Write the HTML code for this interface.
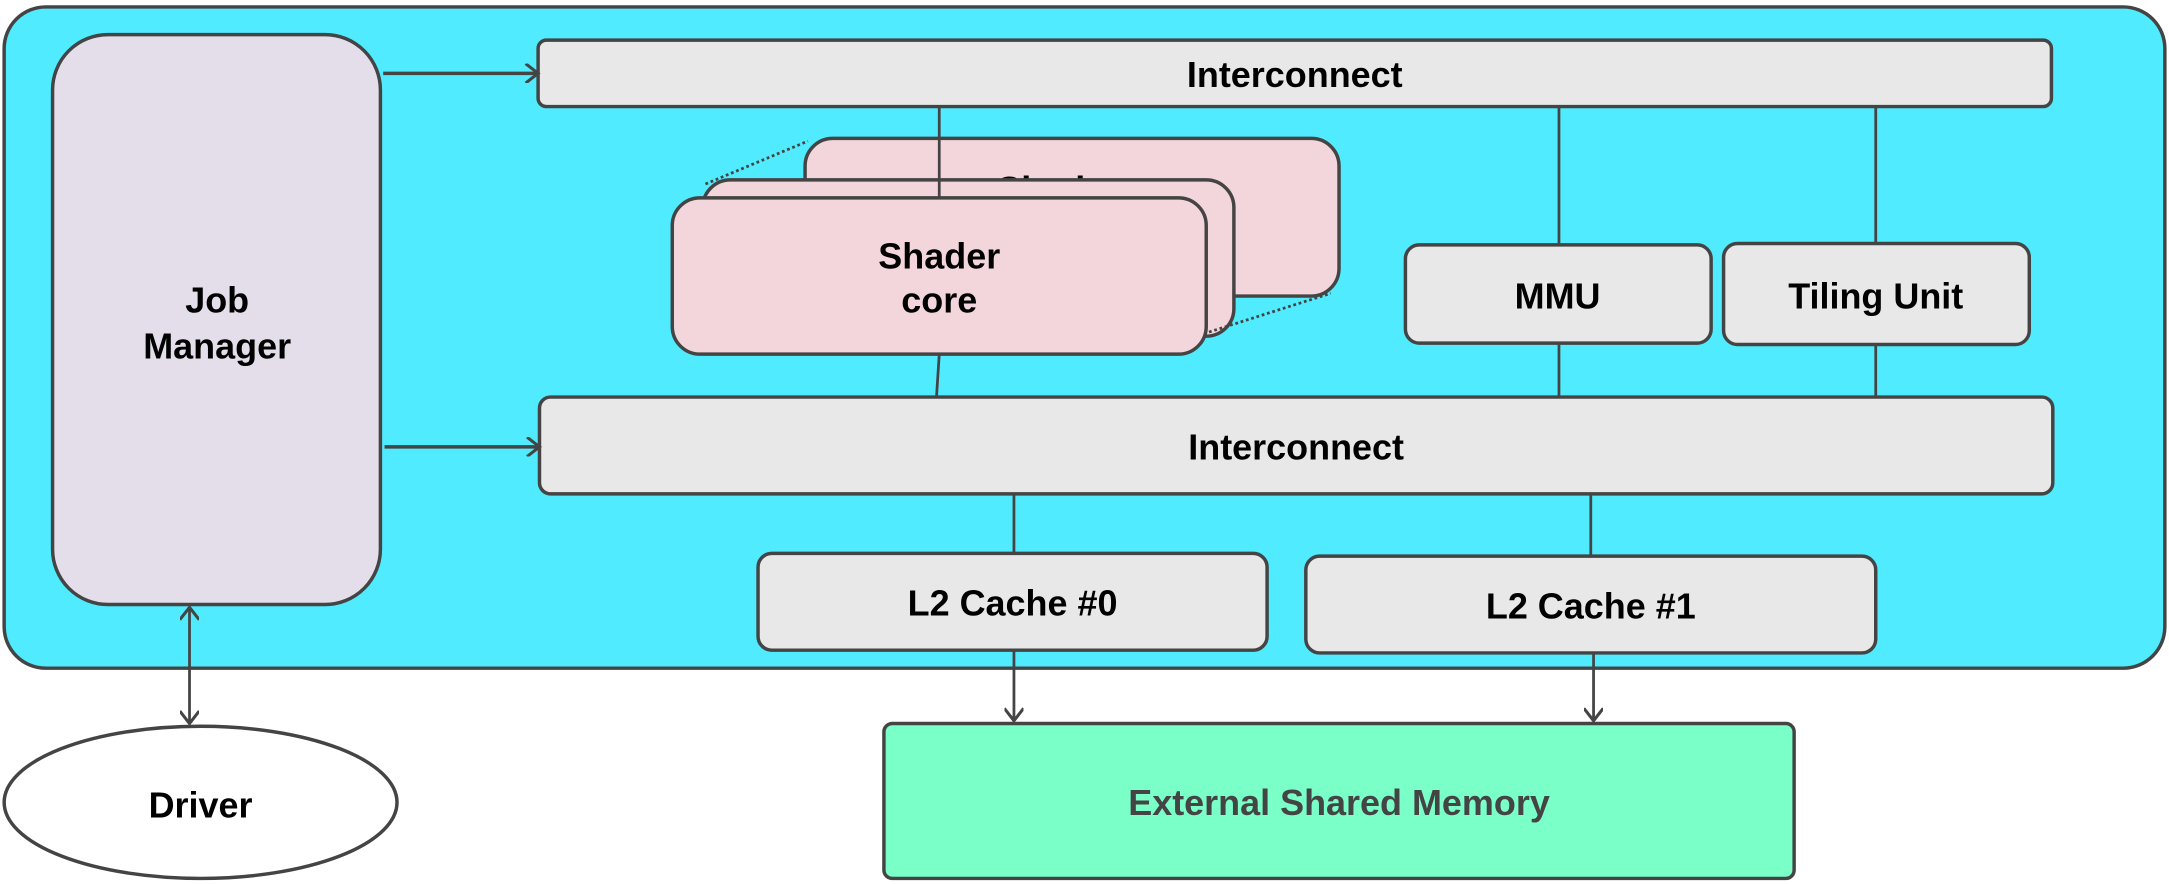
<!DOCTYPE html>
<html><head><style>html,body{margin:0;padding:0;background:#fff}svg{display:block}</style></head><body>
<svg width="2169" height="884" viewBox="0 0 1568 639" xmlns="http://www.w3.org/2000/svg" font-family="Liberation Sans, sans-serif" font-weight="bold" font-size="26">
<defs>
<marker id="a" markerWidth="14" markerHeight="14" refX="12" refY="7" orient="auto" markerUnits="userSpaceOnUse"><path d="M3,0 L12,7 L3,14" fill="none" stroke="#444" stroke-width="2.2"/></marker>
<marker id="s" markerWidth="14" markerHeight="14" refX="2" refY="7" orient="auto" markerUnits="userSpaceOnUse"><path d="M11,0 L2,7 L11,14" fill="none" stroke="#444" stroke-width="2.2"/></marker>
</defs>
<rect x="3" y="5" width="1562" height="478" rx="30" fill="#50EBFF" stroke="#444" stroke-width="2.5"/>
<rect x="38" y="25" width="237" height="412" rx="40" fill="#E3DEEA" stroke="#444" stroke-width="2.5"/>
<text x="157" y="226" text-anchor="middle">Job</text>
<text x="157" y="259" text-anchor="middle">Manager</text>
<rect x="389" y="29" width="1094" height="48" rx="6" fill="#E8E8E8" stroke="#444" stroke-width="2.5"/>
<text x="936" y="63" text-anchor="middle">Interconnect</text>
<line x1="277" y1="53" x2="389" y2="53" stroke="#444" stroke-width="2.5" marker-end="url(#a)"/>
<rect x="582" y="100" width="386" height="114" rx="20" fill="#F3D6DB" stroke="#444" stroke-width="2.5"/>
<text x="765" y="146" text-anchor="middle">Shader</text>
<rect x="508" y="130" width="384" height="113" rx="20" fill="#F3D6DB" stroke="#444" stroke-width="2.5"/>
<line x1="679" y1="77" x2="679" y2="143" stroke="#444" stroke-width="2"/>
<line x1="510" y1="133" x2="584" y2="102" stroke="#444" stroke-width="2" stroke-dasharray="2,2"/>
<line x1="874" y1="240" x2="962" y2="212" stroke="#444" stroke-width="2" stroke-dasharray="2,2"/>
<rect x="486" y="143" width="386" height="113" rx="20" fill="#F3D6DB" stroke="#444" stroke-width="2.5"/>
<text x="679" y="194" text-anchor="middle">Shader</text>
<text x="679" y="226" text-anchor="middle">core</text>
<line x1="679" y1="256" x2="677" y2="287" stroke="#444" stroke-width="2"/>
<line x1="1127" y1="77" x2="1127" y2="177" stroke="#444" stroke-width="2"/>
<line x1="1356" y1="77" x2="1356" y2="176" stroke="#444" stroke-width="2"/>
<line x1="1127" y1="248" x2="1127" y2="287" stroke="#444" stroke-width="2"/>
<line x1="1356" y1="249" x2="1356" y2="287" stroke="#444" stroke-width="2"/>
<rect x="1016" y="177" width="221" height="71" rx="10" fill="#E8E8E8" stroke="#444" stroke-width="2.5"/>
<text x="1126" y="223" text-anchor="middle">MMU</text>
<rect x="1246" y="176" width="221" height="73" rx="10" fill="#E8E8E8" stroke="#444" stroke-width="2.5"/>
<text x="1356" y="223" text-anchor="middle">Tiling Unit</text>
<rect x="390" y="287" width="1094" height="70" rx="8" fill="#E8E8E8" stroke="#444" stroke-width="2.5"/>
<text x="937" y="332" text-anchor="middle">Interconnect</text>
<line x1="278" y1="323" x2="390" y2="323" stroke="#444" stroke-width="2.5" marker-end="url(#a)"/>
<line x1="733" y1="357" x2="733" y2="400" stroke="#444" stroke-width="2"/>
<line x1="1150" y1="357" x2="1150" y2="402" stroke="#444" stroke-width="2"/>
<rect x="548" y="400" width="368" height="70" rx="10" fill="#E8E8E8" stroke="#444" stroke-width="2.5"/>
<text x="732" y="445" text-anchor="middle">L2 Cache #0</text>
<rect x="944" y="402" width="412" height="70" rx="10" fill="#E8E8E8" stroke="#444" stroke-width="2.5"/>
<text x="1150" y="447" text-anchor="middle">L2 Cache #1</text>
<line x1="733" y1="470" x2="733" y2="521" stroke="#444" stroke-width="2" marker-end="url(#a)"/>
<line x1="1152" y1="472" x2="1152" y2="521" stroke="#444" stroke-width="2" marker-end="url(#a)"/>
<rect x="639" y="523" width="658" height="112" rx="6" fill="#7AFFC8" stroke="#444" stroke-width="2.5"/>
<text x="968" y="589" text-anchor="middle" fill="#444">External Shared Memory</text>
<ellipse cx="145" cy="580" rx="142" ry="55" fill="#fff" stroke="#444" stroke-width="2.5"/>
<line x1="137" y1="439" x2="137" y2="523" stroke="#444" stroke-width="2" marker-start="url(#s)" marker-end="url(#a)"/>
<text x="145" y="591" text-anchor="middle">Driver</text>
</svg>
</body></html>
